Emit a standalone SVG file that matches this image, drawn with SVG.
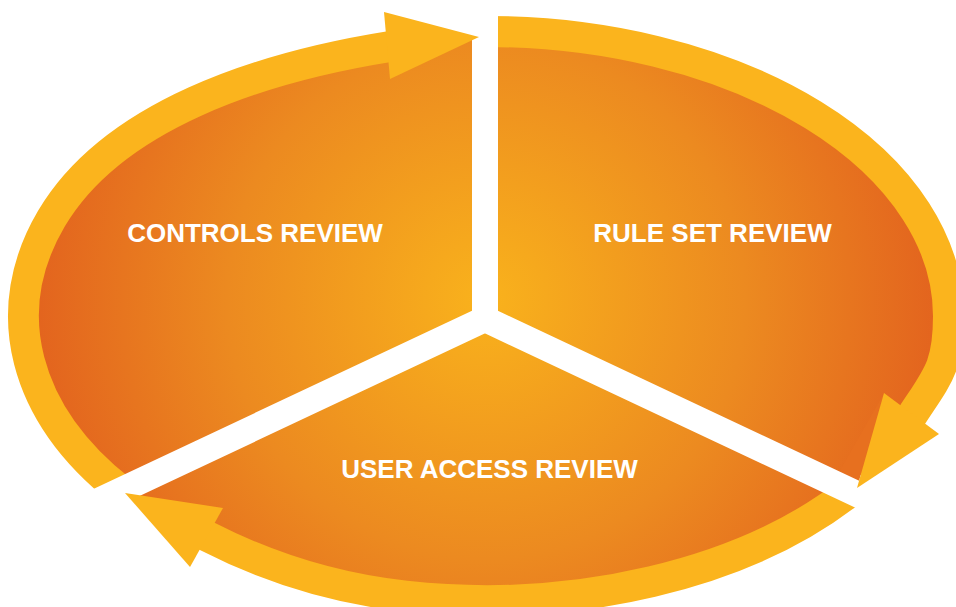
<svg xmlns="http://www.w3.org/2000/svg" width="956" height="607" viewBox="0 0 956 607">
  <defs>
    <radialGradient id="og" gradientUnits="userSpaceOnUse" cx="486" cy="300" r="470">
      <stop offset="0" stop-color="#F9B21C"/>
      <stop offset="0.55" stop-color="#EC8A20"/>
      <stop offset="1" stop-color="#E2601E"/>
    </radialGradient>
  </defs>
  <style>
    .band { fill: none; stroke: #FBB41D; stroke-width: 31; stroke-linecap: butt; }
    .head { fill: #FBB41D; }
    .gap { fill: none; stroke: #FFFFFF; stroke-width: 26; stroke-linecap: round; }
    .label { font-family: "Liberation Sans", Arial, sans-serif; font-weight: bold; font-size: 26px; fill: #FFFFFF; text-anchor: middle; }
  </style>
  <rect width="956" height="607" fill="#FFFFFF"/>

  <g id="disc">
    <ellipse cx="486" cy="316" rx="456" ry="278.5" fill="url(#og)"/>
    <polygon points="884,393 857,488 850,495 840,470" fill="#E7701F"/>
  </g>

  <g id="connectors">
    <path id="arrow-controls-to-ruleset" class="band" d="M121.5,491.2 A462.5,284.5 0 0 1 51.4,218.7 C112.5,115.4 260,67.3 390,46.5 L396,45.5"/>
    <path id="arrow-ruleset-to-useraccess" class="band" d="M486,31.5 A462.5,284.5 0 0 1 948.5,316 C948.5,366 937.8,376.4 913,414 L909.7,419"/>
    <path id="arrow-useraccess-to-controls" class="band" d="M850.5,491.2 A462.5,284.5 0 0 1 405.7,596.2 C336.1,588.6 269.8,568.4 207.5,536.5 L202.2,533.8"/>
  </g>

  <g id="gaps">
    <path class="gap" d="M485,-20 L485,319"/>
    <path class="gap" d="M485,319 L-58,574.6"/>
    <path class="gap" d="M485,319 L1028,574.6"/>
  </g>

  <g id="arrowheads">
    <polygon class="head" points="384,12 479,37 390,79"/>
    <polygon class="head" points="939,434 857,488 884,393"/>
    <polygon class="head" points="223,508 125,493 190,567"/>
  </g>

  <g id="node-controls-review">
    <text class="label" x="255" y="242">CONTROLS REVIEW</text>
  </g>
  <g id="node-rule-set-review">
    <text class="label" x="712.5" y="242">RULE SET REVIEW</text>
  </g>
  <g id="node-user-access-review">
    <text class="label" x="489.5" y="478">USER ACCESS REVIEW</text>
  </g>
</svg>
